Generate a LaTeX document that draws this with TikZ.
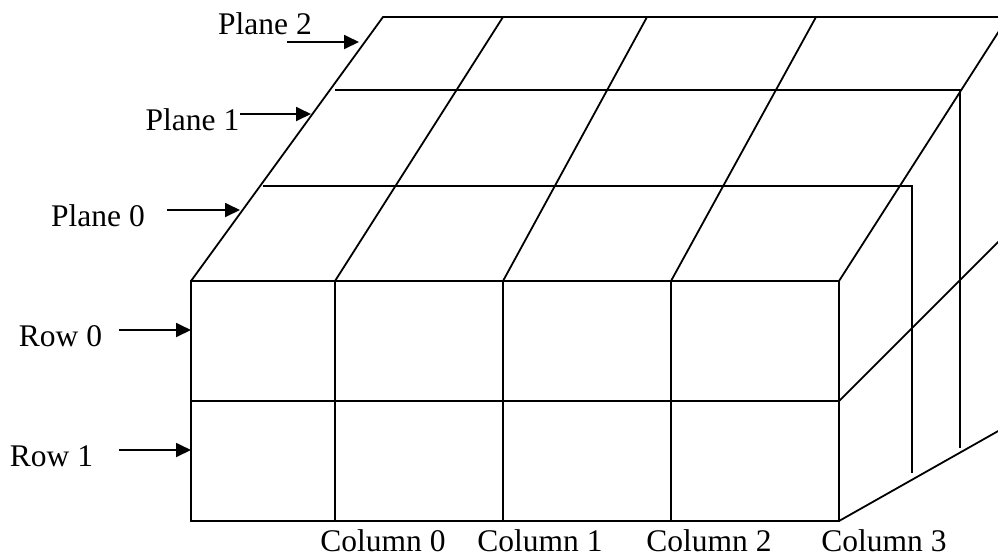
\documentclass[tikz,border=0pt]{standalone}
\usepackage{fontspec}
\setmainfont{Liberation Serif}
\usetikzlibrary{arrows.meta}
\begin{document}
\begin{tikzpicture}[x=1pt,y=-1pt,
  edge/.style={line width=1.8pt, line join=miter},
  ptr/.style={line width=1.8pt,-{Triangle[length=15pt,width=14pt]}},
  lbl/.style={font=\fontsize{31.5}{36}\selectfont, inner sep=0pt, anchor=base}]
\useasboundingbox (0,0) rectangle (998,558);
\clip (0,0) rectangle (998,558);
% front face corners
\coordinate (fa) at (191,281);
\coordinate (fb) at (839,281);
\coordinate (fc) at (839,521);
\coordinate (fd) at (191,521);
\coordinate (ra) at (191,401);
\coordinate (rb) at (839,401);
% back top corners
\coordinate (ta) at (383,17);
\coordinate (tb) at (1008,17);
% column tops / bottoms
\coordinate (c0b) at (335,521); \coordinate (c0f) at (335,281); \coordinate (c0t) at (503,17);
\coordinate (c1b) at (503,521); \coordinate (c1f) at (503,281); \coordinate (c1t) at (647,17);
\coordinate (c2b) at (671,521); \coordinate (c2f) at (671,281); \coordinate (c2t) at (816,17);
% plane lines
\coordinate (p1a) at (263,186); \coordinate (p1b) at (912,186); \coordinate (p1c) at (912,473);
\coordinate (p2a) at (335,90);  \coordinate (p2b) at (960,90);  \coordinate (p2c) at (960,448);
% right face
\coordinate (rm) at (1000,240);
\coordinate (rl) at (1000,430);

% front face
\draw[edge] (fa) -- (fb) -- (fc) -- (fd) -- cycle;
\draw[edge] (ra) -- (rb);
\draw[edge] (c0f) -- (c0b);
\draw[edge] (c1f) -- (c1b);
\draw[edge] (c2f) -- (c2b);
% top face
\draw[edge] (fa) -- (ta) -- (tb);
\draw[edge] (c0f) -- (c0t);
\draw[edge] (c1f) -- (c1t);
\draw[edge] (c2f) -- (c2t);
\draw[edge] (fb) -- (tb);
\draw[edge] (p1a) -- (p1b) -- (p1c);
\draw[edge] (p2a) -- (p2b) -- (p2c);
% right face
\draw[edge] (rb) -- (rm);
\draw[edge] (fc) -- (rl);

% labels
\node[lbl] (lp2) at (265,34) {Plane 2};
\node[lbl] (lp1) at (192.5,130) {Plane 1};
\node[lbl] (lp0) at (98,226) {Plane 0};
\node[lbl] (lr0) at (60.5,346) {Row 0};
\node[lbl] (lr1) at (51.5,466) {Row 1};
\node[lbl] (lc0) at (383,551) {Column 0};
\node[lbl] (lc1) at (540,551) {Column 1};
\node[lbl] (lc2) at (709,551) {Column 2};
\node[lbl] (lc3) at (884,551) {Column 3};

% arrows
\coordinate (a2s) at (287,42);  \coordinate (a2e) at (359,42);
\coordinate (a1s) at (240,114); \coordinate (a1e) at (311,114);
\coordinate (a0s) at (167,210); \coordinate (a0e) at (240,210);
\coordinate (r0s) at (119,330); \coordinate (r0e) at (191,330);
\coordinate (r1s) at (119,450); \coordinate (r1e) at (191,450);
\draw[ptr] (a2s) -- (a2e);
\draw[ptr] (a1s) -- (a1e);
\draw[ptr] (a0s) -- (a0e);
\draw[ptr] (r0s) -- (r0e);
\draw[ptr] (r1s) -- (r1e);
\end{tikzpicture}
\end{document}
